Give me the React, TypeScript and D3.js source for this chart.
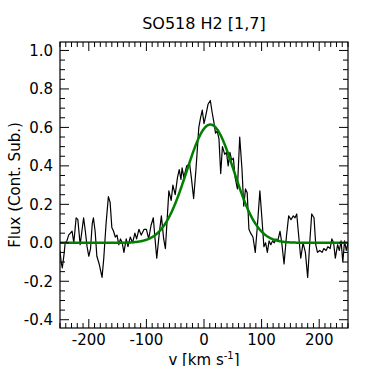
import React from "react";
import * as d3 from "d3";

const velocity = [
  -250, -248, -246, -243, -241, -238, -235, -232, -229, -226, -222, -219, -215, -212, -209, -206, -203, -200, -197, -194,
  -192, -189, -186, -182, -177, -174, -170, -166, -163, -160, -157, -154, -151, -148, -145, -142, -139, -135, -132, -128,
  -124, -120, -117, -113, -109, -104, -100, -96, -92, -88, -85, -82, -78, -74, -70, -67, -64, -61, -57, -54,
  -50, -46, -43, -40, -38, -35, -30, -25, -22, -18, -14, -9, -6, -3, 0, 3, 7, 11, 14, 17,
  20, 23, 26, 29, 32, 36, 39, 42, 45, 48, 51, 54, 58, 62, 66, 69, 72, 75, 78, 81,
  85, 89, 93, 97, 100, 104, 107, 110, 113, 116, 119, 122, 125, 128, 132, 135, 139, 143, 147, 151,
  155, 158, 161, 164, 168, 172, 176, 180, 184, 187, 191, 194, 197, 201, 205, 208, 212, 215, 219, 222,
  225, 228, 232, 235, 238, 241, 244, 247, 250,
];
const flux = [
  -0.04, -0.1, -0.13, -0.06, 0.0, 0.01, 0.04, 0.05, 0.06, 0.0, 0.13, 0.12, -0.01, 0.06, 0.13, 0.06, -0.02, -0.07, -0.03, 0.1,
  0.13, 0.06, -0.07, -0.11, -0.18, -0.08, 0.1, 0.24, 0.21, 0.08, 0.06, 0.03, 0.04, -0.01, 0.02, 0.0, -0.05, 0.02, -0.02, 0.03,
  0.0, 0.05, 0.02, 0.07, 0.04, 0.07, 0.07, 0.02, 0.09, 0.13, 0.02, -0.08, 0.04, 0.14, 0.02, -0.03, 0.12, 0.27, 0.22, 0.3,
  0.25, 0.34, 0.38, 0.33, 0.39, 0.34, 0.4, 0.41, 0.34, 0.23, 0.38, 0.6, 0.65, 0.69, 0.62, 0.66, 0.72, 0.74, 0.68, 0.63,
  0.57, 0.58, 0.54, 0.36, 0.5, 0.46, 0.47, 0.4, 0.47, 0.43, 0.44, 0.34, 0.28, 0.55, 0.38, 0.19, 0.28, 0.26, 0.07, 0.05,
  0.03, -0.05, 0.1, 0.27, 0.15, -0.02, 0.0, -0.05, 0.01, -0.01, 0.01, 0.0, 0.02, 0.01, 0.06, 0.0, -0.11, 0.03, 0.14, 0.12,
  0.14, 0.13, 0.15, 0.05, -0.08, 0.0, -0.05, -0.18, 0.02, 0.15, 0.13, -0.01, -0.05, -0.04, -0.05, -0.03, -0.04, -0.02, -0.03, 0.02,
  0.0, -0.08, -0.01, -0.04, 0.01, -0.1, 0.01, -0.04, 0.0,
];

// Gaussian fit parameters
const fitAmplitude = [0.615];
const fitCenter = [11];
const fitSigma = [41];

const xTicks = [-200, -100, 0, 100, 200];
const yTicks = [-0.4, -0.2, 0.0, 0.2, 0.4, 0.6, 0.8, 1.0];
const xDomain = [-250, 250];
const yDomain = [-0.443, 1.044];

const titleText = "SO518 H2 [1,7]";
const yLabelText = "Flux (Cont. Sub.)";

export default function App() {
  const W = 389;
  const H = 366;
  const L = 60, R = 348, T = 42, B = 328;
  const font = "DejaVu Sans, sans-serif";

  const x = d3.scaleLinear().domain(xDomain).range([L, R]);
  const y = d3.scaleLinear().domain(yDomain).range([B, T]);

  const spectrum = velocity.map((v, i) => [v, flux[i]] as [number, number]);
  const fitPts: [number, number][] = d3.range(-250, 250.01, 1).map((v) => [
    v,
    fitAmplitude[0] * Math.exp(-((v - fitCenter[0]) ** 2) / (2 * fitSigma[0] ** 2)),
  ]);

  const line = d3
    .line<[number, number]>()
    .x((d) => x(d[0]))
    .y((d) => y(d[1]));

  const xMinor = d3.range(-250, 250.01, 10).filter((v) => Math.abs(v % 100) > 1e-6);
  const yMinor = d3.range(-0.4, 1.0401, 0.05).filter(
    (v) => Math.abs(Math.round(v * 100) % 20) > 1e-6
  );

  const major = 9;
  const minor = 5;
  const tickStroke = { stroke: "#000", strokeWidth: 1 };

  return (
    <svg width={W} height={H} style={{ display: "block", position: "absolute", left: 0, top: 0 }}>
      <rect width={W} height={H} fill="#fff" />
      <defs>
        <clipPath id="plotclip">
          <rect x={L} y={T} width={R - L} height={B - T} />
        </clipPath>
      </defs>
      <g clipPath="url(#plotclip)">
        <path d={line(spectrum) || ""} fill="none" stroke="#000" strokeWidth={1.2} strokeLinejoin="round" />
        <path d={line(fitPts) || ""} fill="none" stroke="#008000" strokeWidth={2.5} />
      </g>
      {/* x ticks */}
      {xTicks.map((v) => (
        <g key={"xt" + v}>
          <line x1={x(v)} x2={x(v)} y1={B} y2={B - major} {...tickStroke} />
          <line x1={x(v)} x2={x(v)} y1={T} y2={T + major} {...tickStroke} />
          <text x={x(v)} y={B + 17} fontSize={15} fontFamily={font} textAnchor="middle">
            {v < 0 ? "-" + Math.abs(v) : String(v)}
          </text>
        </g>
      ))}
      {xMinor.map((v) => (
        <g key={"xm" + v}>
          <line x1={x(v)} x2={x(v)} y1={B} y2={B - minor} {...tickStroke} />
          <line x1={x(v)} x2={x(v)} y1={T} y2={T + minor} {...tickStroke} />
        </g>
      ))}
      {yTicks.map((v) => (
        <g key={"yt" + v}>
          <line x1={L} x2={L + major} y1={y(v)} y2={y(v)} {...tickStroke} />
          <line x1={R} x2={R - major} y1={y(v)} y2={y(v)} {...tickStroke} />
          <text x={L - 7} y={y(v) + 5.5} fontSize={15} fontFamily={font} textAnchor="end">
            {v < 0 ? "-" + Math.abs(v).toFixed(1) : v.toFixed(1)}
          </text>
        </g>
      ))}
      {yMinor.map((v) => (
        <g key={"ym" + v.toFixed(2)}>
          <line x1={L} x2={L + minor} y1={y(v)} y2={y(v)} {...tickStroke} />
          <line x1={R} x2={R - minor} y1={y(v)} y2={y(v)} {...tickStroke} />
        </g>
      ))}
      <rect x={L} y={T} width={R - L} height={B - T} fill="none" stroke="#000" strokeWidth={1.2} />
      <text x={(L + R) / 2} y={29} fontSize={16} fontFamily={font} textAnchor="middle">
        {titleText}
      </text>
      <text x={(L + R) / 2} y={365} fontSize={15} fontFamily={font} textAnchor="middle">
        v [km s<tspan dy={-6} fontSize={10}>-1</tspan>
        <tspan dy={6}>]</tspan>
      </text>
      <text
        transform={`translate(20,${(T + B) / 2}) rotate(-90)`}
        fontSize={15}
        fontFamily={font}
        textAnchor="middle"
      >
        {yLabelText}
      </text>
    </svg>
  );
}
